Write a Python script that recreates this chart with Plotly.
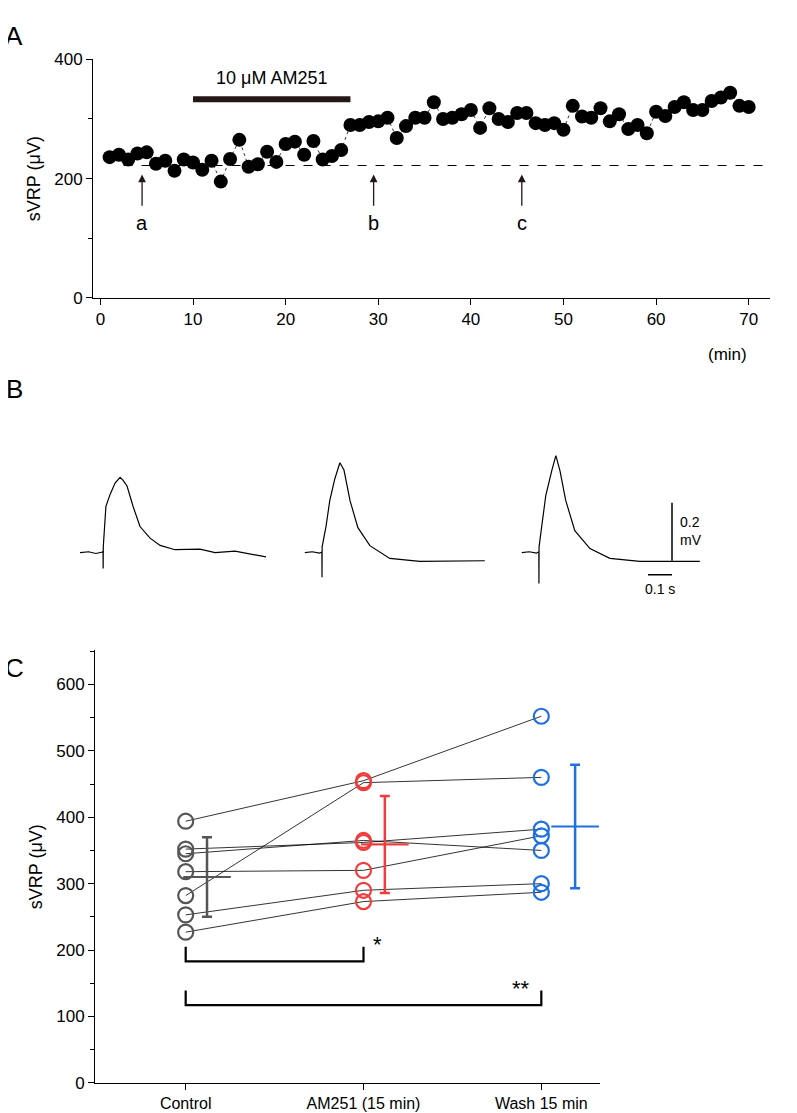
import plotly.graph_objects as go

W, H = 797, 1113
def px(x): return (x - 8) / W
def py(y):
    yc = y - (15.9 - 0.016 * y)
    return 1 - yc / H

# Panel A
minutes = list(range(1, 71))
svrp_time = [236,240,232,242,244,225,230,213,232,227,215,230,195,233,265,220,224,245,228,258,
             262,240,263,232,238,248,290,290,295,296,302,268,288,302,302,328,300,302,308,315,
             285,318,300,295,310,310,293,290,293,282,322,304,302,318,296,308,283,290,276,312,
             305,320,328,315,315,330,336,344,322,320]
baseline = 222
arrow_x = [4.5, 29.5, 45.5]
arrow_labels = ["a", "b", "c"]

# Panel B traces (ms relative to stimulus, mV relative to baseline)
trace_a_t = [-96,-60,-30,-2,0,0.5,1,12,29,50,71,83,100,125,154,196,238,300,404,467,550,679]
trace_a_v = [0,0.003,-0.003,0.002,0.005,-0.055,0.02,0.16,0.2,0.24,0.26,0.25,0.23,0.16,0.09,0.05,0.025,0.01,0.012,0.0,0.005,-0.015]
trace_b_t = [-71,-40,-10,0,0.5,1,17,33,54,75,92,117,150,200,283,408,679]
trace_b_v = [0,0.003,-0.002,0.002,-0.085,0.02,0.09,0.18,0.255,0.31,0.285,0.18,0.086,0.024,-0.02,-0.03,-0.028]
trace_c_t = [-71,-40,-10,0,0.5,1,12,29,54,71,88,112,150,213,296,421,671]
trace_c_v = [0,0.003,-0.002,0.003,-0.107,0.02,0.09,0.197,0.283,0.335,0.283,0.18,0.076,0.014,-0.02,-0.03,-0.03]
stim_ms = [96, 1008, 1912]

# Panel C
conditions = ["Control", "AM251 (15 min)", "Wash 15 min"]
ctrl = [394, 282, 352, 318, 253, 227, 345]
am251 = [455, 452, 362, 320, 290, 273, 365]
wash = [552, 460, 382, 372, 300, 287, 350]
means = [310, 359, 386]
sds = [60, 73, 93]
colors = ["#555555", "#f03c3c", "#1f6fe0"]

fig = go.Figure()

# ---- A ----
fig.add_trace(go.Scatter(x=minutes, y=svrp_time, mode="lines+markers",
    line=dict(color="black", width=0.8, dash="dot"),
    marker=dict(color="black", size=14), xaxis="x", yaxis="y", showlegend=False))
fig.add_shape(type="line", xref="x", yref="y", x0=2.5, x1=73.5, y0=baseline, y1=baseline,
              line=dict(color="black", width=1, dash="dash"))
fig.add_shape(type="line", xref="x", yref="y", x0=10, x1=27, y0=333, y1=333,
              line=dict(color="#231815", width=6))
fig.add_annotation(x=18.5, y=348, xref="x", yref="y", text="10 μM AM251", showarrow=False,
                   font=dict(size=18, color="black"), yanchor="bottom")
for xa, lab in zip(arrow_x, arrow_labels):
    fig.add_annotation(x=xa, y=207, ax=xa, ay=152, xref="x", yref="y", axref="x", ayref="y",
                       text="", showarrow=True, arrowhead=2, arrowsize=1.2, arrowwidth=1.3,
                       arrowcolor="#231815")
    fig.add_annotation(x=xa, y=125, xref="x", yref="y", text=lab, showarrow=False,
                       font=dict(size=20, color="black"))
fig.add_annotation(x=px(749), y=py(342), xref="paper", yref="paper", text="(min)",
                   showarrow=False, font=dict(size=17, color="black"))

# ---- B ----
for tt, vv, s in [(trace_a_t, trace_a_v, stim_ms[0]), (trace_b_t, trace_b_v, stim_ms[1]),
                  (trace_c_t, trace_c_v, stim_ms[2])]:
    fig.add_trace(go.Scatter(x=[t + s for t in tt], y=vv, mode="lines",
        line=dict(color="black", width=1.2), xaxis="x2", yaxis="y2", showlegend=False))
for xl, lab in zip([40, 970, 1880], ["a", "b", "c"]):
    fig.add_annotation(x=xl, y=0.46, xref="x2", yref="y2", text=lab, showarrow=False,
                       font=dict(size=20, color="black"))
fig.add_shape(type="line", xref="x2", yref="y2", x0=2467, x1=2467, y0=0.172, y1=-0.028,
              line=dict(color="black", width=1.5))
fig.add_shape(type="line", xref="x2", yref="y2", x0=2467, x1=2367, y0=-0.076, y1=-0.076,
              line=dict(color="black", width=1.5))
fig.add_annotation(x=2490, y=0.075, xref="x2", yref="y2", text="0.2<br>mV", showarrow=False,
                   xanchor="left", align="left", font=dict(size=14, color="black"))
fig.add_annotation(x=2417, y=-0.09, xref="x2", yref="y2", text="0.1 s", showarrow=False,
                   yanchor="top", font=dict(size=14, color="black"))

# ---- C ----
for i in range(len(ctrl)):
    fig.add_trace(go.Scatter(x=[0, 1, 2], y=[ctrl[i], am251[i], wash[i]], mode="lines",
        line=dict(color="black", width=0.8), xaxis="x3", yaxis="y3", showlegend=False))
for k, vals in enumerate([ctrl, am251, wash]):
    fig.add_trace(go.Scatter(x=[k] * len(vals), y=vals, mode="markers",
        marker=dict(symbol="circle-open", size=15, color=colors[k], line=dict(width=2.2)),
        xaxis="x3", yaxis="y3", showlegend=False))
offs = [0.12, 0.12, 0.19]
for k in range(3):
    fig.add_trace(go.Scatter(x=[k + offs[k]], y=[means[k]], mode="markers",
        marker=dict(symbol="line-ew", size=34, line=dict(color=colors[k], width=2.2)),
        error_y=dict(type="data", array=[sds[k]], color=colors[k], thickness=2.5, width=5),
        xaxis="x3", yaxis="y3", showlegend=False))
for x1, yb, star in [(1, 183, "*"), (2, 117, "**")]:
    fig.add_trace(go.Scatter(x=[0, 0, x1, x1], y=[yb + 22, yb, yb, yb + 22], mode="lines",
        line=dict(color="black", width=2.2), xaxis="x3", yaxis="y3", showlegend=False))
    fig.add_annotation(x=x1 - (0.05 if x1 == 2 else -0.04), y=yb + 4, xref="x3", yref="y3",
                       text=star, showarrow=False, xanchor="right" if x1 == 2 else "left",
                       yanchor="bottom", font=dict(size=22, color="black"))

for lab, y in [("A", 18), ("B", 388), ("C", 668)]:
    fig.add_annotation(x=px(14), y=py(y), xref="paper", yref="paper", text=lab,
                       showarrow=False, font=dict(size=26, color="black"), xanchor="center")

ax = dict(showgrid=False, zeroline=False, showline=True, linecolor="black", linewidth=1,
          ticks="outside", tickcolor="black", tickfont=dict(size=17, color="black"))
fig.update_layout(
    width=W, height=H, margin=dict(l=0, r=0, t=0, b=0),
    plot_bgcolor="white", paper_bgcolor="white",
    font=dict(family="Liberation Sans, Arial", color="black"),
    xaxis=dict(ax, domain=[px(93), px(770)], range=[-0.8, 72.3], anchor="y",
               tickvals=list(range(0, 71, 10)), ticklen=6),
    yaxis=dict(ax, domain=[py(297), py(58)], range=[0, 400], anchor="x",
               tickvals=[0, 200, 400], ticklen=6,
               minor=dict(tickvals=[100, 300], ticks="outside", ticklen=4, tickcolor="black"),
               title=dict(text="sVRP (μV)", font=dict(size=18), standoff=8)),
    xaxis2=dict(domain=[px(80), px(720)], range=[0, 2667], visible=False, anchor="y2"),
    yaxis2=dict(domain=[py(600), py(440)], range=[-0.1655, 0.386], visible=False, anchor="x2"),
    xaxis3=dict(ax, domain=[px(95), px(600)], range=[-0.51, 2.33], anchor="y3",
                tickvals=[0, 1, 2], ticktext=conditions, ticklen=6, tickfont=dict(size=16)),
    yaxis3=dict(ax, domain=[py(1083), py(650)], range=[0, 651], anchor="x3",
                tickvals=list(range(0, 601, 100)), ticklen=6,
                minor=dict(tickvals=list(range(50, 651, 100)), ticks="outside", ticklen=4,
                           tickcolor="black"),
                title=dict(text="sVRP (μV)", font=dict(size=18), standoff=8)),
)
fig.write_html("out.html")
